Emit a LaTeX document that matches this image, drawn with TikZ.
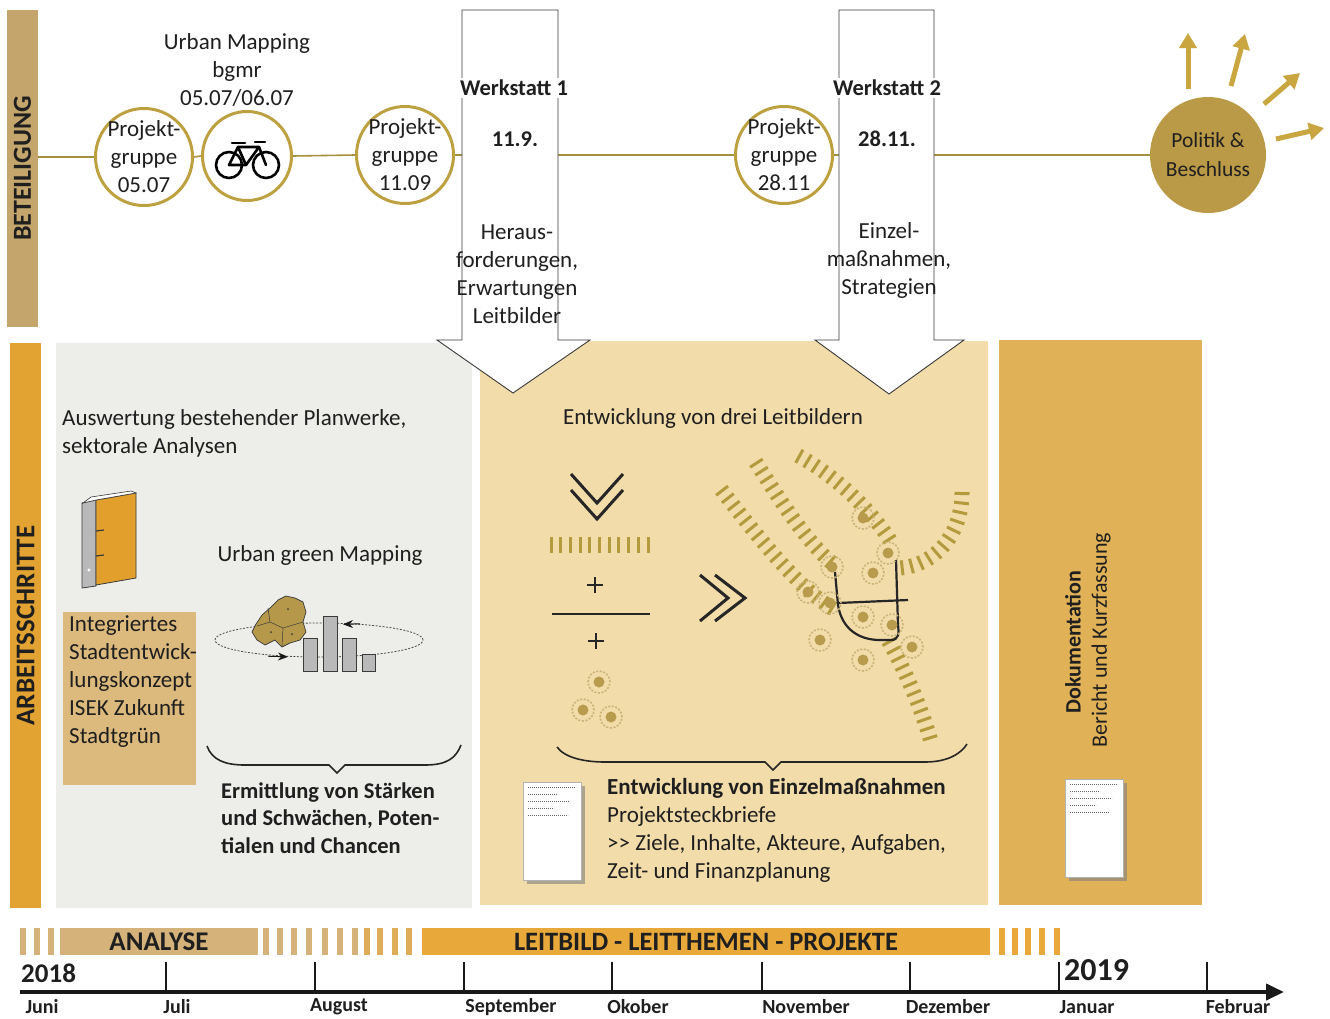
\documentclass[tikz,border=0pt]{standalone}
\usepackage{fontspec}
\setmainfont{Carlito}
\usetikzlibrary{arrows.meta,decorations.markings,shadows}
\definecolor{txtc}{HTML}{1F1F1F}
\definecolor{betbar}{HTML}{C4A66C}
\definecolor{arbbar}{HTML}{E2A332}
\definecolor{ringc}{HTML}{BDA141}
\definecolor{linec}{HTML}{A68F3E}
\definecolor{polc}{HTML}{BB9A47}
\definecolor{arrowc}{HTML}{C9A640}
\definecolor{panelA}{HTML}{EDEDEA}
\definecolor{panelB}{HTML}{F1DCAA}
\definecolor{panelC}{HTML}{E0B156}
\definecolor{isekc}{HTML}{DCB97C}
\definecolor{analysec}{HTML}{D4B27A}
\definecolor{leitc}{HTML}{E8A83A}
\definecolor{hatchc}{HTML}{B39A3C}
\definecolor{treec}{HTML}{B99B4E}
\definecolor{binderc}{HTML}{E39F2C}
\definecolor{mapc}{HTML}{B5984A}
\definecolor{outl}{HTML}{3A3A3A}
\begin{document}
\begin{tikzpicture}[x=1pt,y=-1pt,
  txt/.style={text=txtc, inner sep=0pt, align=center, font=\fontsize{23}{28}\selectfont},
  btxt/.style={txt, font=\fontsize{22.5}{28}\selectfont\bfseries},
  ltxt/.style={txt, align=left, anchor=west},
  ring/.style={circle, draw=ringc, line width=3pt, fill=white, minimum size=97pt, inner sep=0pt},
  tline/.style={draw=linec, line width=1.6pt},
  shaft/.style={fill=white, draw=outl, line width=0.9pt, line join=miter},
  ray/.style={draw=arrowc, line width=5pt, -{Triangle[length=15pt,width=17pt]}},
  hatchline/.style={decorate, decoration={markings, mark=between positions 0.02 and 1 step 9.5pt with {\draw[hatchc, line width=3pt] (0pt,-7.5pt) -- (0pt,7.5pt);}}},
  chev/.style={draw=black!85, line width=3pt},
  bracel/.style={draw=black!85, line width=1.6pt},
  doc/.style={rectangle, fill=white, draw=black!30, line width=0.5pt, minimum width=58pt, minimum height=98pt, inner sep=0pt, drop shadow={shadow xshift=4pt, shadow yshift=-4pt, opacity=0.6}},
  docline/.style={draw=black!60, line width=0.9pt, dash pattern=on 1.2pt off 0.8pt},
  month/.style={txt, font=\fontsize{20}{24}\selectfont\bfseries},
  tick/.style={draw=black!90, line width=2.5pt}
]
\fill[white] (0,0) rectangle (1330,1018);
\useasboundingbox (0,0) rectangle (1330,1018);

% ---------------- panels of the work steps
\node[fill=arbbar, minimum width=31pt, minimum height=565pt, inner sep=0pt] (arb) at (25.5,625.5) {};
\node[btxt, rotate=90, font=\fontsize{27}{30}\selectfont\bfseries] at (arb.center) {ARBEITSSCHRITTE};
\fill[panelA] (56,343) rectangle (472,908);
\fill[panelB] (480,341) rectangle (988,905);
\fill[panelC] (999,340) rectangle (1202,905);

% ---------------- participation row
\node[fill=betbar, minimum width=31pt, minimum height=317pt, inner sep=0pt] (bet) at (22.5,168.5) {};
\node[btxt, rotate=90, font=\fontsize{26}{30}\selectfont\bfseries] at (bet.center) {BETEILIGUNG};

\node[ring] (pg1) at (144,157) {};
\node[ring, minimum size=89pt] (bike) at (247,156) {};
\node[ring] (pg2) at (405,155) {};
\node[ring] (pg3) at (784,155) {};
\node[circle, fill=polc, minimum size=116pt, inner sep=0pt] (pol) at (1208,155) {};

\draw[tline] (bet.east |- pg1.west) -- (pg1.west);
\draw[tline] (pg1.east) -- (bike.west);
\draw[tline] (bike.east) -- (pg2.west);
\draw[tline] (pg2.east) -- (pg3.west);
\draw[tline] (pg3.east) -- (pol.west);

% workshop arrows
\draw[shaft] (462,10) -- (558,10) -- (558,340) -- (590,340) -- (513,393) -- (437,340) -- (462,340) -- cycle;
\draw[shaft] (839,10) -- (934,10) -- (934,340) -- (964,340) -- (889,394) -- (815,340) -- (839,340) -- cycle;

\node[txt] at (pg1) {Projekt-\\gruppe\\05.07};
\node[txt] at (pg2) {Projekt-\\gruppe\\11.09};
\node[txt] at (pg3) {Projekt-\\gruppe\\28.11};

% bicycle
\begin{scope}[line width=2.6pt, line join=round, line cap=round, draw=black]
  \draw (229,165) circle (13pt) (266,165) circle (13pt);
  \draw (229,165) -- (246,165) -- (238,147) -- cycle;
  \draw (238,147) -- (259,147) -- (246,165);
  \draw (259,147) -- (266,165);
  \draw (232,143) -- (245,143);
  \draw (255,142) -- (265,142);
\end{scope}

\node[txt] (um) at (237,69.5) {Urban Mapping\\bgmr\\05.07/06.07};

\node[btxt, fill=white, inner sep=2pt] (w1) at (514,88) {Werkstatt 1};
\node[btxt] (d1) at (515,139) {11.9.};
\node[txt] (t1) at (517,274.5) {Heraus-\\forderungen,\\Erwartungen\\Leitbilder};
\node[btxt, fill=white, inner sep=2pt] (w2) at (887,88) {Werkstatt 2};
\node[btxt] (d2) at (887,139) {28.11.};
\node[txt] (t2) at (889,260.5) {Einzel-\\maßnahmen,\\Strategien};

\node[txt, font=\fontsize{21.5}{29}\selectfont] at (pol) {Politik \&\\Beschluss};
\coordinate (r1s) at (1188,89);  \coordinate (r1e) at (1188,33);
\coordinate (r2s) at (1231,86);  \coordinate (r2e) at (1245,34);
\coordinate (r3s) at (1264,104); \coordinate (r3e) at (1300,73);
\coordinate (r4s) at (1276,139); \coordinate (r4e) at (1324,128);
\draw[ray] (r1s) -- (r1e);
\draw[ray] (r2s) -- (r2e);
\draw[ray] (r3s) -- (r3e);
\draw[ray] (r4s) -- (r4e);

% ---------------- analysis panel
\node[ltxt] (ausw) at (62,433.5) {Auswertung bestehender Planwerke,\\sektorale Analysen};

% binder
\draw[fill=gray!55, draw=outl, line width=0.8pt] (82,503) -- (96,500) -- (96,586) -- (82,588) -- cycle;
\draw[fill=binderc, draw=outl, line width=0.8pt] (96,500) -- (136,493) -- (136,578) -- (96,585) -- cycle;
\draw[fill=white, draw=outl, line width=0.6pt] (83,503) -- (91,497) -- (131,491) -- (136,493) -- (96,500) -- cycle;
\draw[outl, line width=1.2pt] (96,531) -- (104,530) (96,556) -- (104,555);
\fill[white] (89,570) circle (1.6pt);

\node[fill=isekc, minimum width=133pt, minimum height=173pt, inner sep=0pt] (isek) at (129.5,698.5) {};
\node[ltxt] at (69,682) {Integriertes\\Stadtentwick-\\lungskonzept\\ISEK Zukunft\\Stadtgrün};

\node[txt] (ugm) at (320,555) {Urban green Mapping};

% mapping icon
\draw[gray!60!black, line width=0.8pt, dash pattern=on 2pt off 1.5pt] (319,640) ellipse [x radius=104pt, y radius=17pt];
\draw[-{Stealth[length=10pt,width=8pt]}, gray!20!black, line width=1pt] (360,623.8) -- (343,624.3);
\draw[-{Stealth[length=10pt,width=8pt]}, gray!20!black, line width=1pt] (268,656.2) -- (288,656.8);
\draw[fill=mapc, draw=outl, line width=0.7pt] (262,615) -- (270,608) -- (278,600) -- (286,596) -- (295,598) -- (303,602) -- (306,612) -- (303,622) -- (306,632) -- (300,640) -- (290,643) -- (282,647) -- (275,640) -- (265,645) -- (257,640) -- (252,632) -- (256,624) -- cycle;
\draw[outl, line width=0.5pt] (257,626) -- (270,622) -- (283,628) -- (303,622) (283,628) -- (282,646) (270,622) -- (268,608);
\fill[outl] (271,632) circle (1pt) (292,634) circle (1pt) (288,609) circle (1pt);
\foreach \xa/\ya/\xb in {303/638/317, 323/616/337, 342/638/356, 362/654/375}
  \draw[fill=gray!55, draw=outl, line width=0.8pt] (\xa,\ya) rectangle (\xb,671);

\draw[bracel] (207,746) .. controls (212,760) and (225,765) .. (245,765) -- (329,765) -- (337,773) -- (345,765) -- (425,765) .. controls (447,765) and (456,758) .. (461,745);
\node[ltxt, font=\fontsize{22.5}{27.5}\selectfont\bfseries] (erm) at (221,818) {Ermittlung von Stärken\\und Schwächen, Poten-\\tialen und Chancen};

% ---------------- guiding concepts panel
\node[txt] (leit) at (713,418) {Entwicklung von drei Leitbildern};

\draw[chev] (571,474) -- (597,503) -- (623,474);
\draw[chev] (571,490) -- (597,519) -- (623,490);
\foreach \i in {0,...,10}
  \draw[hatchc, line width=3pt] (551+9.7*\i,537) -- ++(0,16);
\draw[black!85, line width=2.5pt] (587,585) -- (603,585) (595,577) -- (595,593);
\draw[black!85, line width=2.5pt] (552,614) -- (650,614);
\draw[black!85, line width=2.5pt] (588,641) -- (604,641) (596,633) -- (596,649);

\draw[chev] (700,575) -- (728,598) -- (700,621);
\draw[chev] (715,575) -- (745,598) -- (715,621);

% structure sketch
\path[hatchline] (720,488) .. controls (760,540) and (800,590) .. (835,610);
\path[hatchline] (755,461) .. controls (780,500) and (805,540) .. (832,563);
\path[hatchline] (797,455) .. controls (840,478) and (875,515) .. (893,545);
\path[hatchline] (900,568) .. controls (935,565) and (962,535) .. (962,492);
\path[hatchline] (888,640) .. controls (905,670) and (920,705) .. (930,738);
\draw[black!85, line width=2.2pt, line join=round] (835,572) -- (838,605) .. controls (842,630) and (860,640) .. (880,640) -- (891,640) .. controls (899,640) and (899,633) .. (898,625) -- (896,560);
\draw[black!85, line width=2.2pt] (838,603) -- (908,600);

\foreach \p in {(863,518),(888,553),(832,567),(873,573),(808,592),(830,603),(863,617),(892,625),(820,640),(912,647),(863,660),(599,682),(583,710),(611,717)}
{
  \draw[treec!75, line width=1.6pt, dash pattern=on 2pt off 1.6pt] \p circle (11pt);
  \fill[treec] \p circle (5.5pt);
}

\draw[bracel] (557,747) .. controls (565,758) and (585,762) .. (605,762) -- (765,762) -- (773,770) -- (781,762) -- (925,762) .. controls (950,762) and (962,752) .. (967,744);

\node[doc] (doc1) at (552,831) {};
\foreach \dy/\len in {6/48, 13/30, 20/42, 27/26, 34/40}
  \draw[docline] ([xshift=5pt,yshift=-\dy pt]doc1.north west) -- ++(\len,0);
\node[ltxt, align=left] (einz) at (607,830) {\textbf{Entwicklung von Einzelmaßnahmen}\\Projektsteckbriefe\\>{}> Ziele, Inhalte, Akteure, Aufgaben,\\Zeit- und Finanzplanung};

% ---------------- documentation panel
\node[btxt, rotate=90, font=\fontsize{22}{26}\selectfont\bfseries] (dok) at (1073,642) {Dokumentation};
\node[txt, rotate=90, font=\fontsize{22}{26}\selectfont] (ber) at (1101,640) {Bericht und Kurzfassung};
\node[doc] (doc2) at (1094,828) {};
\foreach \dy/\len in {6/48, 13/30, 20/42, 27/26, 34/40}
  \draw[docline] ([xshift=5pt,yshift=-\dy pt]doc2.north west) -- ++(\len,0);

% ---------------- time line
\foreach \x in {20,34,48}
  \fill[analysec] (\x,928) rectangle ++(6,27);
\node[fill=analysec, minimum width=198pt, minimum height=27pt, inner sep=0pt, text=txtc, font=\fontsize{27}{28}\selectfont\bfseries] (ana) at (159,941.5) {ANALYSE};
\foreach \x in {263,277,291,306,322,337,352}
  \fill[analysec] (\x,928) rectangle ++(6,27);
\foreach \x in {364,377,392,406}
  \fill[leitc!55!analysec] (\x,928) rectangle ++(6,27);
\node[fill=leitc, minimum width=568pt, minimum height=27pt, inner sep=0pt, text=txtc, font=\fontsize{26.5}{28}\selectfont\bfseries] (lb) at (706,941.5) {LEITBILD - LEITTHEMEN - PROJEKTE};
\foreach \x in {999,1012,1025,1039,1054}
  \fill[leitc] (\x,928) rectangle ++(6,27);

\coordinate (ax0) at (20,992);
\coordinate (ax1) at (1284,992);
\draw[black!90, line width=4pt, -{Triangle[length=18pt,width=16pt]}] (ax0) -- (ax1);
\foreach \x in {166,315,464,612,762,910,1059,1207}
  \draw[tick] (\x,992) -- (\x,962);
\node[btxt, anchor=west, font=\fontsize{27}{30}\selectfont\bfseries] (y18) at (21,973) {2018};
\node[btxt, anchor=west, font=\fontsize{32}{34}\selectfont\bfseries] (y19) at (1064,970) {2019};
\foreach \x/\m in {42/Juni, 177/Juli, 339/August, 511/September, 638/Okober, 806/November, 948/Dezember, 1087/Januar, 1238/Februar}
  \node[month] at (\x,1007) {\m};
\end{tikzpicture}
\end{document}
